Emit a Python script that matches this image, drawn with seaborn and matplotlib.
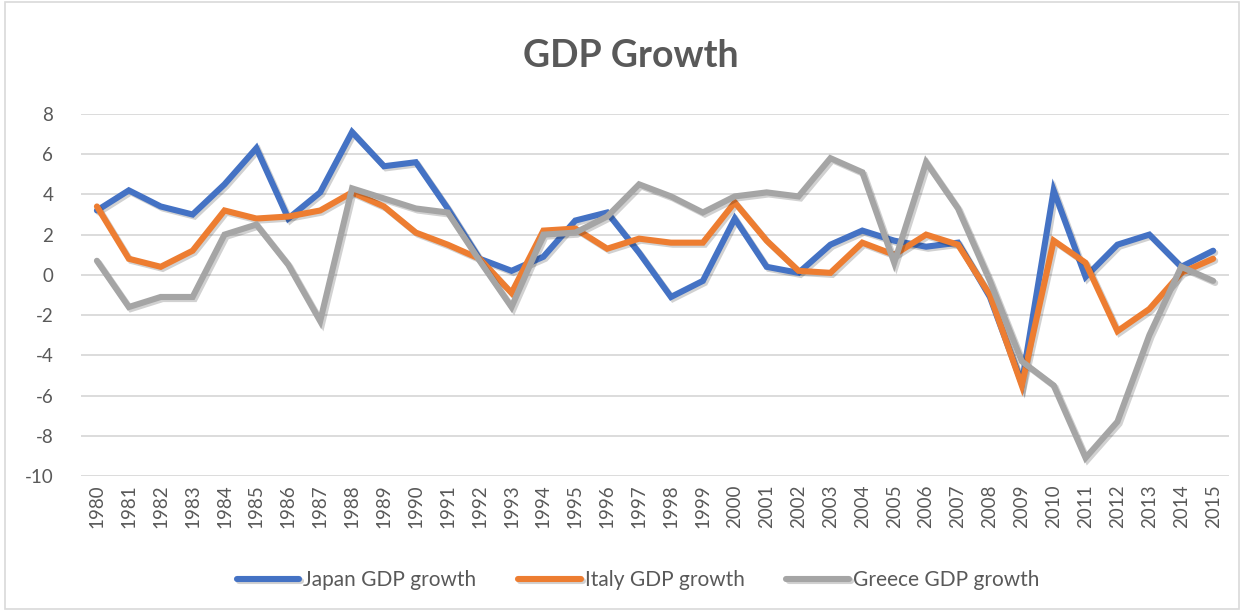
import numpy as np
import pandas as pd
import matplotlib
matplotlib.use("Agg")
import matplotlib.pyplot as plt
import matplotlib.patheffects as pe
import seaborn as sns

years = list(range(1980, 2016))
japan = [3.2, 4.2, 3.4, 3.0, 4.5, 6.3, 2.8, 4.1, 7.1, 5.4, 5.6, 3.3, 0.8, 0.2, 0.9, 2.7, 3.1, 1.1,
         -1.1, -0.3, 2.8, 0.4, 0.1, 1.5, 2.2, 1.7, 1.4, 1.6, -1.1, -5.4, 4.2, -0.1, 1.5, 2.0, 0.4, 1.2]
italy = [3.4, 0.8, 0.4, 1.2, 3.2, 2.8, 2.9, 3.2, 4.1, 3.4, 2.1, 1.5, 0.8, -0.9, 2.2, 2.3, 1.3, 1.8,
         1.6, 1.6, 3.6, 1.7, 0.2, 0.1, 1.6, 1.0, 2.0, 1.5, -1.0, -5.5, 1.7, 0.6, -2.8, -1.7, 0.1, 0.8]
greece = [0.7, -1.6, -1.1, -1.1, 2.0, 2.5, 0.5, -2.3, 4.3, 3.8, 3.3, 3.1, 0.7, -1.6, 2.0, 2.1, 2.9, 4.5,
          3.9, 3.1, 3.9, 4.1, 3.9, 5.8, 5.1, 0.6, 5.6, 3.3, -0.3, -4.3, -5.5, -9.1, -7.3, -3.0, 0.4, -0.3]
series_names = ["Japan GDP growth", "Italy GDP growth", "Greece GDP growth"]
colors = ["#4472C4", "#ED7D31", "#A5A5A5"]

df = pd.DataFrame({"Year": years, series_names[0]: japan, series_names[1]: italy, series_names[2]: greece})
long = df.melt(id_vars="Year", var_name="Series", value_name="Growth")
long["idx"] = long["Year"] - years[0]

sns.set_theme(style="white")
plt.rcParams["font.family"] = ["Lato", "DejaVu Sans"]
plt.rcParams["axes.unicode_minus"] = False

fig = plt.figure(figsize=(12.44, 6.11), dpi=100)
ax = fig.add_axes([0.0651, 0.221, 0.9229, 0.5925])

sns.lineplot(data=long, x="idx", y="Growth", hue="Series", hue_order=series_names,
             palette=colors, linewidth=4.4, ax=ax, legend=True, zorder=3)
shadow = [pe.SimpleLineShadow(offset=(1.5, -1.5), shadow_color="black", alpha=0.18), pe.Normal()]
for ln in ax.lines:
    ln.set_path_effects(shadow)
    ln.set_solid_capstyle("round")
    ln.set_solid_joinstyle("miter")

ax.set_xlim(-0.5, len(years) - 0.5)
ax.set_ylim(-10, 8)
ax.set_yticks(np.arange(-10, 9, 2))
ax.set_xticks(range(len(years)))
ax.set_xticklabels([str(y) for y in years], rotation=90)
ax.yaxis.grid(True, color="#D9D9D9", linewidth=1.3)
ax.set_axisbelow(True)
for s in ax.spines.values():
    s.set_visible(False)
ax.tick_params(axis="y", labelsize=13.5, colors="#595959", length=0, pad=20)
ax.tick_params(axis="x", labelsize=13.5, colors="#595959", length=0, pad=6)
ax.set_xlabel("")
ax.set_ylabel("")

fig.text(0.507, 0.908, "GDP Growth", ha="center", va="center", fontsize=27, fontweight="bold", color="#595959")

handles, labels = ax.get_legend_handles_labels()
ax.legend(handles, labels, loc="center", bbox_to_anchor=(0.513, 1 - 580 / 611), bbox_transform=fig.transFigure,
          ncol=3, frameon=False, fontsize=15, labelcolor="#595959", handlelength=3.0,
          handletextpad=0.2, columnspacing=2.0)
for h in ax.get_legend().legend_handles:
    h.set_linewidth(4.4)

fig.patches.append(plt.Rectangle((0.004, 0.003), 0.992, 0.994, transform=fig.transFigure,
                                 fill=False, edgecolor="#D9D9D9", linewidth=1.2))

fig.savefig("out.png", dpi=100)
